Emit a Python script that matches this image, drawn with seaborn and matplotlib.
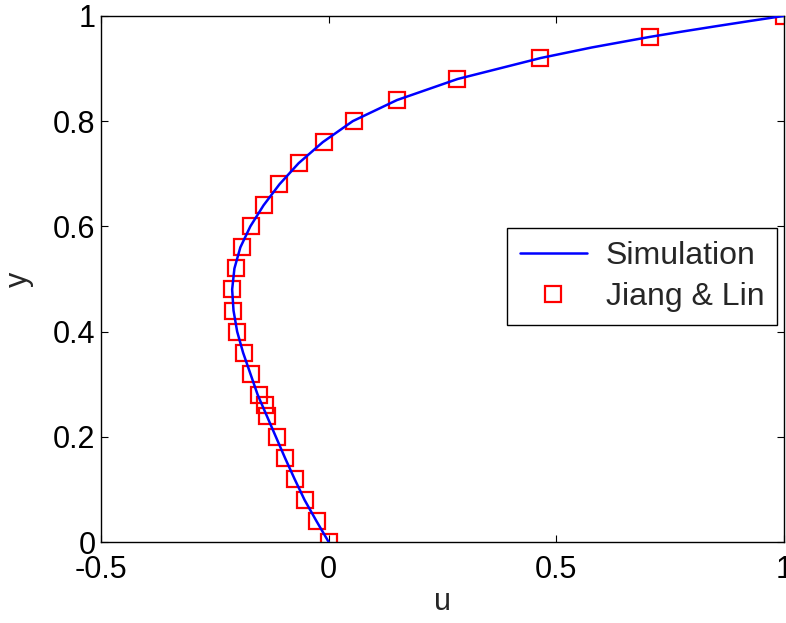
import matplotlib
matplotlib.use("Agg")
import matplotlib.pyplot as plt
import seaborn as sns
import pandas as pd

# Simulation profile
sim_y = [0.00, 0.04, 0.08, 0.12, 0.16, 0.20, 0.24, 0.28, 0.32, 0.36, 0.40, 0.44,
         0.48, 0.52, 0.56, 0.60, 0.64, 0.68, 0.72, 0.76, 0.80, 0.84, 0.88, 0.92,
         0.94, 0.96, 0.97, 0.98, 0.99, 1.00]
sim_u = [0.000, -0.027, -0.053, -0.075, -0.096, -0.116, -0.136, -0.156, -0.172,
         -0.188, -0.201, -0.209, -0.212, -0.207, -0.194, -0.172, -0.143, -0.108,
         -0.066, -0.013, 0.053, 0.150, 0.283, 0.466, 0.578, 0.705, 0.775, 0.848,
         0.923, 1.000]

# Jiang & Lin reference data
exp_y = [0.00, 0.04, 0.08, 0.12, 0.16, 0.20, 0.24, 0.26, 0.28, 0.32, 0.36, 0.40,
         0.44, 0.48, 0.52, 0.56, 0.60, 0.64, 0.68, 0.72, 0.76, 0.80, 0.84, 0.88,
         0.92, 0.96, 1.00]
exp_u = [0.000, -0.025, -0.053, -0.073, -0.095, -0.114, -0.135, -0.140, -0.153,
         -0.170, -0.187, -0.202, -0.210, -0.212, -0.204, -0.190, -0.171, -0.142,
         -0.109, -0.066, -0.011, 0.055, 0.151, 0.282, 0.465, 0.705, 1.000]

x_ticks = [-0.5, 0, 0.5, 1]
x_tick_labels = ["-0.5", "0", "0.5", "1"]
y_ticks = [0, 0.2, 0.4, 0.6, 0.8, 1]
y_tick_labels = ["0", "0.2", "0.4", "0.6", "0.8", "1"]

sns.set_style("ticks")
plt.rcParams["font.family"] = ["Liberation Sans", "DejaVu Sans"]

fig = plt.figure(figsize=(7.86, 6.23), dpi=100)
ax = fig.add_axes([0.1285, 0.13, 0.869, 0.8445])

sim_df = pd.DataFrame({"u": sim_u, "y": sim_y})
exp_df = pd.DataFrame({"u": exp_u, "y": exp_y})

sns.lineplot(data=exp_df, x="u", y="y", sort=False, estimator=None, ax=ax,
             linestyle="none", marker="s", markersize=11.5,
             markerfacecolor="none", markeredgecolor="red",
             markeredgewidth=1.6, color="red", label="Jiang & Lin", zorder=2)
sns.lineplot(data=sim_df, x="u", y="y", sort=False, estimator=None, ax=ax,
             color="blue", linewidth=1.8, label="Simulation", zorder=3)

ax.set_xlim(-0.5, 1)
ax.set_ylim(0, 1)
ax.set_xticks(x_ticks)
ax.set_xticklabels(x_tick_labels)
ax.set_yticks(y_ticks)
ax.set_yticklabels(y_tick_labels)
ax.tick_params(axis="both", direction="in", length=5, width=0.8, colors="black",
               labelsize=22, top=True, right=True)
ax.tick_params(axis="x", pad=9)
ax.tick_params(axis="y", pad=4)
for s in ax.spines.values():
    s.set_visible(True)
    s.set_color("black")
    s.set_linewidth(1.0)

ax.set_xlabel("u", fontsize=22, labelpad=2)
ax.set_ylabel("y", fontsize=22, labelpad=14)

handles, labels = ax.get_legend_handles_labels()
order = [labels.index("Simulation"), labels.index("Jiang & Lin")]
leg = ax.legend([handles[i] for i in order], [labels[i] for i in order],
                loc="upper right", bbox_to_anchor=(0.99, 0.597), fontsize=23,
                frameon=True, fancybox=False, framealpha=1, edgecolor="black",
                handlelength=2.1, borderpad=0.4, labelspacing=0.35,
                handletextpad=0.6, borderaxespad=0)
leg.get_frame().set_linewidth(1.0)

fig.savefig("out.png", dpi=100)
